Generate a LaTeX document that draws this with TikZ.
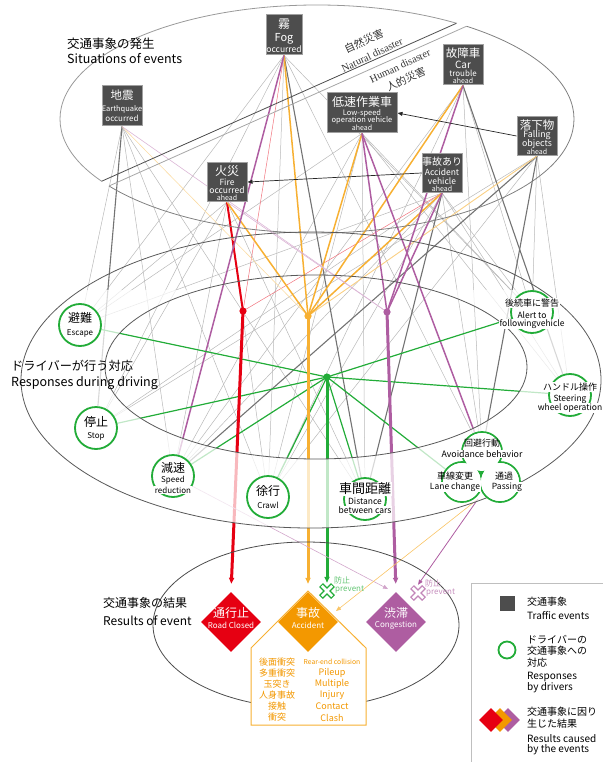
\documentclass[tikz,border=0pt]{standalone}
\usepackage{fontspec}
\setmainfont{Noto Sans CJK JP}
\newfontfamily\serifjp{Liberation Serif}
\usetikzlibrary{shapes.geometric,arrows.meta,calc}
\definecolor{evfill}{HTML}{4D4D4D}
\definecolor{evline}{HTML}{A0A0A0}
\definecolor{grn}{HTML}{22AC38}
\definecolor{rd}{HTML}{E60012}
\definecolor{org}{HTML}{F7B032}
\definecolor{orgd}{HTML}{F39800}
\definecolor{pur}{HTML}{AE5DA1}
\newcommand\myfs[1]{\fontsize{#1}{#1}\selectfont}
\pgfdeclarelayer{bg}
\pgfdeclarelayer{fade}
\pgfsetlayers{bg,fade,main}
\begin{document}
\begin{tikzpicture}[x=1pt,y=-1pt,
 evbox/.style={rectangle, draw=evline, fill=evfill, line width=1pt, inner sep=0},
 resp/.style={circle, draw=grn, line width=1.8pt, fill=white, minimum size=42pt, inner sep=0},
 wt/.style={text=white, inner sep=0},
 bt/.style={text=black, inner sep=0},
 wbg/.style={fill=white, inner sep=0.6pt},
 gthin/.style={draw=black!28, line width=0.5pt},
 gdark/.style={draw=black!55, line width=1.1pt},
 oline/.style={draw=org, line width=1.5pt},
 pline/.style={draw=pur, line width=1.5pt},
 gline/.style={draw=grn, line width=1.2pt},
 res/.style={diamond, minimum width=60pt, minimum height=60pt, inner sep=0},
 tip/.style={-{Triangle[length=6pt,width=5pt]}},
 stip/.style={-{Triangle[length=5pt,width=4pt]}},
 ot/.style={text=orgd, inner sep=0},
 ]
\useasboundingbox (0,0) rectangle (602,762);

% ---------- event boxes ----------
\node[evbox,minimum width=36pt,minimum height=40pt] (fog) at (284,35) {};
\node[evbox,minimum width=40pt,minimum height=40pt] (eq) at (122,106) {};
\node[evbox,minimum width=40pt,minimum height=40pt] (car) at (463,65) {};
\node[evbox,minimum width=70pt,minimum height=40pt] (low) at (362,113) {};
\node[evbox,minimum width=40pt,minimum height=39pt] (fall) at (537,136) {};
\node[evbox,minimum width=40pt,minimum height=39pt] (acc) at (442,173) {};
\node[evbox,minimum width=40pt,minimum height=39pt] (fire) at (227,182) {};

\node[wt] at (284,24) {\myfs{12}霧};
\node[wt] at (284,39) {\myfs{11}Fog};
\node[wt] at (284,49) {\myfs{8.5}occurred};
\node[wt] at (122,95) {\myfs{11.5}地震};
\node[wt] at (122,109) {\myfs{7.5}Earthquake};
\node[wt] at (122,118) {\myfs{8}occurred};
\node[wt] at (463,53) {\myfs{11.5}故障車};
\node[wt] at (463,65) {\myfs{10}Car};
\node[wt] at (463,73.5) {\myfs{8}trouble};
\node[wt] at (463,80.5) {\myfs{7}ahead};
\node[wt] at (362,102) {\myfs{12}低速作業車};
\node[wt] at (362,113) {\myfs{7.5}Low-speed};
\node[wt] at (362,120.5) {\myfs{7.5}operation vehicle};
\node[wt] at (362,128) {\myfs{7}ahead};
\node[wt] at (537,125) {\myfs{11.5}落下物};
\node[wt] at (537,135) {\myfs{8.8}Falling};
\node[wt] at (537,144) {\myfs{8.8}objects};
\node[wt] at (537,152) {\myfs{7}ahead};
\node[wt] at (442,162) {\myfs{10}事故あり};
\node[wt] at (442,172) {\myfs{8.5}Accident};
\node[wt] at (442,181) {\myfs{8.5}vehicle};
\node[wt] at (442,188.5) {\myfs{7}ahead};
\node[wt] at (227,171) {\myfs{12}火災};
\node[wt] at (227,182) {\myfs{8.5}Fire};
\node[wt] at (227,190) {\myfs{8.5}occurred};
\node[wt] at (227,197.5) {\myfs{7}ahead};

% ---------- response circles ----------
\node[resp] (esc) at (80,325) {};
\node[resp] (stop) at (96,428) {};
\node[resp] (slow) at (173,476) {};
\node[resp] (crawl) at (268,497) {};
\node[resp] (dist) at (365,499) {};
\node[resp] (alert) at (532,312) {};
\node[resp] (steer) at (570,395) {};
\node[resp,minimum size=40pt] (avA) at (482,452) {};
\node[resp,minimum size=40pt] (avL) at (462,482) {};
\node[resp,minimum size=40pt] (avR) at (500,482) {};
\fill[white] (482,452) circle [radius=18.9] (462,482) circle [radius=18.9] (500,482) circle [radius=18.9];

\node[bt] at (80,318) {\myfs{12}避難};
\node[bt] at (80,333) {\myfs{8}Escape};
\node[bt] at (96,422) {\myfs{12}停止};
\node[bt] at (96,436) {\myfs{8}Stop};
\node[bt] at (173,468) {\myfs{12}減速};
\node[bt] at (173,480) {\myfs{8}Speed};
\node[bt,wbg] at (173,490) {\myfs{8}reduction};
\node[bt] at (268,491) {\myfs{12}徐行};
\node[bt] at (268,505) {\myfs{8}Crawl};
\node[bt,wbg] at (365,489) {\myfs{13}車間距離};
\node[bt] at (365,501) {\myfs{8.5}Distance};
\node[bt,wbg] at (365,510) {\myfs{8.5}between cars};
\node[bt,wbg] at (532,303) {\myfs{9}後続車に警告};
\node[bt] at (532,315) {\myfs{8.5}Alert to};
\node[bt,wbg] at (532,324) {\myfs{8.5}followingvehicle};
\node[bt,wbg] at (570,387) {\myfs{9}ハンドル操作};
\node[bt] at (570,399) {\myfs{8.5}Steering};
\node[bt,wbg] at (570,408) {\myfs{8.5}wheel operation};
\node[bt] at (482,443) {\myfs{9}回避行動};
\node[bt,wbg] at (482,454) {\myfs{8.8}Avoidance behavior};
\node[bt] at (455,476) {\myfs{9}車線変更};
\node[bt,wbg] at (455,487) {\myfs{8.5}Lane change};
\node[bt] at (504,476) {\myfs{9}通過};
\node[bt,wbg] at (507,487) {\myfs{8.5}Passing};

% ---------- results ----------
\draw[draw=org, line width=1pt, fill=white] (251,725) -- (251,648) -- (308,591) -- (366,648) -- (366,725) -- cycle;
\node[res, fill=rd] (road) at (231,622) {};
\node[res, fill=orgd] (accd) at (308,622) {};
\node[res, fill=pur] (cong) at (396,622) {};
\node[wt] at (231,613) {\myfs{12}通行止};
\node[wt] at (231,625) {\myfs{8}Road Closed};
\node[wt] at (308,613) {\myfs{12}事故};
\node[wt] at (308,625) {\myfs{8}Accident};
\node[wt] at (396,613) {\myfs{12}渋滞};
\node[wt] at (396,625) {\myfs{8}Congestion};

\node[ot] at (277,662) {\myfs{9}後面衝突};
\node[ot] at (277,673) {\myfs{9}多重衝突};
\node[ot] at (277,684) {\myfs{9}玉突き};
\node[ot] at (277,695) {\myfs{9}人身事故};
\node[ot] at (277,706) {\myfs{9}接触};
\node[ot] at (277,717.5) {\myfs{9}衝突};
\node[ot] at (332,662) {\myfs{6.8}Rear-end collision};
\node[ot] at (332,673) {\myfs{9}Pileup};
\node[ot] at (332,684) {\myfs{9}Multiple};
\node[ot] at (332,695) {\myfs{9}Injury};
\node[ot] at (332,706) {\myfs{9}Contact};
\node[ot] at (332,717.5) {\myfs{9}Clash};

% prevent crosses
\node[minimum size=16pt, inner sep=0] (gx) at (327,591) {};
\node[minimum size=16pt, inner sep=0] (px) at (418,593) {};
\draw[grn, line width=5.5pt] (gx.center) ++(-6,-6) -- ++(12,12) (gx.center) ++(-6,6) -- ++(12,-12);
\draw[white, line width=2.6pt] (gx.center) ++(-5.2,-5.2) -- ++(10.4,10.4) (gx.center) ++(-5.2,5.2) -- ++(10.4,-10.4);
\draw[pur!75, line width=5.5pt] (px.center) ++(-6,-6) -- ++(12,12) (px.center) ++(-6,6) -- ++(12,-12);
\draw[white, line width=2.6pt] (px.center) ++(-5.2,-5.2) -- ++(10.4,10.4) (px.center) ++(-5.2,5.2) -- ++(10.4,-10.4);
\node[anchor=west, text=grn!70, inner sep=0] at (334,580) {\myfs{8}防止};
\node[anchor=west, text=grn!70, inner sep=0] at (335,589.5) {\myfs{8}prevent};
\node[anchor=west, text=pur!70, inner sep=0] at (425,583) {\myfs{8}防止};
\node[anchor=west, text=pur!70, inner sep=0] at (426,592.5) {\myfs{8}prevent};

% hubs
\coordinate (redhub) at (243,311);
\coordinate (orahub) at (308,316);
\coordinate (purhub) at (387,312);
\coordinate (grnhub) at (327,377);
\coordinate (congtip) at (388,589);
\coordinate (acctip) at (336,611);
\coordinate (avbot) at (478,499);
\fill[rd] (redhub) circle [radius=3.6];
\fill[org] (orahub) circle [radius=3.6];
\fill[pur] (purhub) circle [radius=3.6];
\fill[grn] (grnhub) circle [radius=3.6];

% ---------- section labels ----------
\node[anchor=west, inner sep=0] at (67,44) {\myfs{12.5}交通事象の発生};
\node[anchor=west, inner sep=0] at (67,59) {\myfs{12.5}Situations of events};
\node[anchor=west, inner sep=0] at (11,366) {\myfs{12.2}ドライバーが行う対応};
\node[anchor=west, inner sep=0] at (11,383) {\myfs{12.5}Responses during driving};
\node[anchor=west, inner sep=0] at (103,603) {\myfs{12}交通事象の結果};
\node[anchor=west, inner sep=0] at (103,621) {\myfs{12}Results of event};
\node[rotate=25, inner sep=0, text=black!80] at (364,41) {\myfs{10.5}自然災害};
\node[rotate=25, inner sep=0, text=black!80] at (372,55) {\myfs{10.5}\serifjp Natural disaster};
\node[rotate=25, inner sep=0, text=black!80] at (400,66) {\myfs{10.5}\serifjp Human disaster};
\node[rotate=25, inner sep=0, text=black!80] at (406,79) {\myfs{10.5}人的災害};

% ---------- legend ----------
\draw[black!25, line width=0.8pt] (471,583) rectangle (650,800);
\node[fill=evfill, draw=black!70, line width=0.6pt, minimum size=14pt, inner sep=0] (lgsq) at (507,603) {};
\node[anchor=west, inner sep=0] at (527,602) {\myfs{10}交通事象};
\node[anchor=west, inner sep=0] at (527,616) {\myfs{10}Traffic events};
\node[circle, draw=grn, line width=1.8pt, minimum size=17pt, inner sep=0] (lgc) at (507,650) {};
\node[anchor=west, inner sep=0] at (527,640) {\myfs{10}ドライバーの};
\node[anchor=west, inner sep=0] at (527,651) {\myfs{10}交通事象への};
\node[anchor=west, inner sep=0] at (527,663) {\myfs{10}対応};
\node[anchor=west, inner sep=0] at (527,677) {\myfs{10}Responses};
\node[anchor=west, inner sep=0] at (527,688) {\myfs{10}by drivers};
\node[diamond, fill=pur, minimum size=24pt, inner sep=0] (lgp) at (508,720) {};
\node[diamond, fill=orgd, minimum size=24pt, inner sep=0] (lgo) at (500,720) {};
\node[diamond, fill=rd, minimum size=24pt, inner sep=0] (lgr) at (491,720) {};
\node[anchor=west, inner sep=0] at (527,712) {\myfs{10}交通事象に因り};
\node[anchor=west, inner sep=0] at (527,724) {\myfs{10}生じた結果};
\node[anchor=west, inner sep=0] at (527,739) {\myfs{10}Results caused};
\node[anchor=west, inner sep=0] at (527,750) {\myfs{10}by the events};

% ---------- connectors (background) ----------
\begin{pgfonlayer}{bg}
% gray thin
\foreach \a/\b in {eq/esc, eq/slow, eq/crawl, eq/dist,
  fog/esc, fog/stop, fog/crawl, fog/alert, fog/avA,
  low/esc, low/slow, low/crawl, low/dist, low/alert, low/steer,
  car/avA, car/alert, car/slow, car/crawl,
  fall/alert, fall/steer, fall/stop, fall/crawl,
  acc/slow, acc/stop, acc/esc, acc/avA, acc/alert, acc/steer, acc/crawl,
  fire/esc, fire/stop, fire/slow, fire/crawl, fire/dist}
  \draw[gthin] (\a.south) -- (\b);
% gray dark
\foreach \a/\b in {eq/stop, fog/dist, fall/slow, fall/avA, acc/dist, car/steer}
  \draw[gdark] (\a.south) -- (\b);
% red
\draw[rd!55, line width=0.5pt] (acc.south) -- (redhub);
\draw[rd!55, line width=0.5pt] (fog.south) -- (redhub);
\draw[rd, line width=2pt] (fire.south) -- (redhub);
% orange
\draw[org!45, line width=0.6pt] (eq.south) -- (orahub);
\draw[org!60, line width=0.9pt] (fall.south) -- (orahub);
\foreach \a in {fog, fire, low, car, acc}
  \draw[oline] (\a.south) -- (orahub);
% purple
\draw[pur!45, line width=0.6pt] (eq.south) -- (purhub);
\draw[pur!45, line width=0.6pt] (fire.south) -- (purhub);
\foreach \a in {low, car, acc}
  \draw[pline] (\a.south) -- (purhub);
\draw[pline] (fog.south) -- (slow);
\draw[pline] (low.south) -- (avA);
% green
\foreach \b in {esc, stop, slow, crawl, dist, avL, alert, steer}
  \draw[gline] (grnhub) -- (\b);
% thick arrows
\draw[rd, line width=3pt, tip, shorten >=8pt] (redhub) -- (road.north);
\draw[org, line width=3pt, tip, shorten >=8pt] (orahub) -- (accd.north);
\draw[pur, line width=3pt, tip, shorten >=8pt] (purhub) -- (cong.north);
\draw[grn, line width=3pt, tip] (grnhub) -- (gx.north);
% thin arrows
\draw[pur!55, line width=0.6pt, stip] (slow) -- (congtip);
\draw[org!75, line width=0.6pt, stip] (avbot) -- (acctip);
\draw[pur, line width=0.8pt, stip] (avbot) -- (px.north);
% event arrows
\draw[black!85, line width=0.7pt, stip] (fall.west) -- (low.east);
\draw[black!85, line width=0.7pt, stip] (acc.west) -- (fire.east);
\end{pgfonlayer}

% ---------- fade ring and ellipses ----------
\begin{pgfonlayer}{fade}
\begin{scope}
\clip (0,290) rectangle (602,762);
\fill[white, opacity=0.72, even odd rule] (311,380) ellipse [x radius=290, y radius=148] (316,367) ellipse [x radius=211, y radius=92];
\end{scope}
\begin{scope}
\clip (-78.5,261.5) -- (635.5,-56.5) -- (635.5,-100) -- (-100,-100) -- (-100,261.5) -- cycle;
\draw[black!40, line width=0.8pt] (317,119) ellipse [x radius=257, y radius=114];
\end{scope}
\begin{scope}
\clip (-73,267.5) -- (647,-54.5) -- (700,-54.5) -- (700,400) -- (-73,400) -- cycle;
\draw[black!50, line width=0.8pt] (317,119) ellipse [x radius=257, y radius=114];
\end{scope}
\draw[black!70, line width=0.8pt] (101.5,181.3) -- (456.4,23.3);
\draw[black!35, line width=0.8pt] (109,186) -- (466.4,26.3);
\draw[black!65, line width=0.8pt] (311,380) ellipse [x radius=290, y radius=148];
\draw[black!65, line width=0.8pt] (316,367) ellipse [x radius=211, y radius=92];
\draw[black!70, line width=0.8pt] (306,625) ellipse [x radius=153, y radius=83];
\end{pgfonlayer}
\end{tikzpicture}
\end{document}
